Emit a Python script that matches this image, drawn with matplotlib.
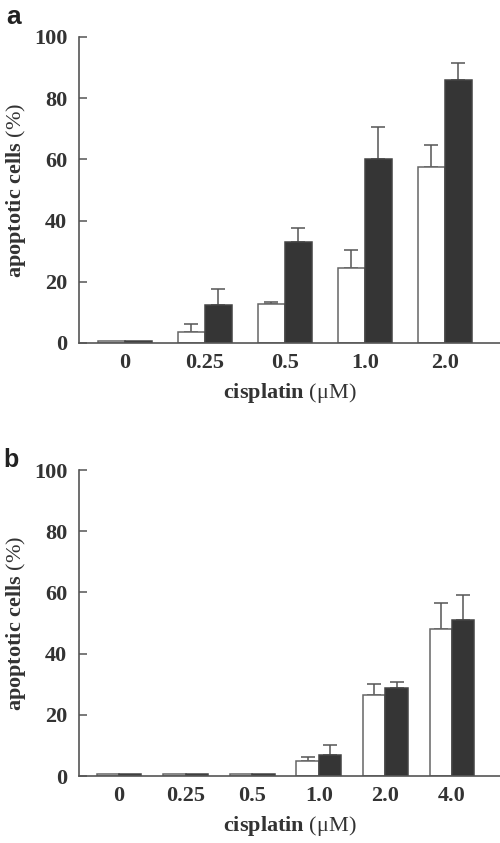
import matplotlib
matplotlib.use("Agg")
import matplotlib.pyplot as plt
import numpy as np

plt.rcParams['font.family'] = ['Liberation Serif', 'DejaVu Serif']
plt.rcParams['mathtext.fontset'] = 'custom'
plt.rcParams['mathtext.rm'] = 'Liberation Serif'
plt.rcParams['mathtext.it'] = 'Liberation Serif:italic'
plt.rcParams['mathtext.bf'] = 'Liberation Serif:bold'

# Panel a data
cats_a = ["0", "0.25", "0.5", "1.0", "2.0"]
white_a = [0.5, 3.6, 12.9, 24.5, 57.5]
white_a_err = [0.0, 2.5, 0.5, 5.9, 7.2]
black_a = [0.5, 12.5, 33.0, 60.1, 86.1]
black_a_err = [0.0, 5.0, 4.6, 10.5, 5.5]

# Panel b data
cats_b = ["0", "0.25", "0.5", "1.0", "2.0", "4.0"]
white_b = [0.5, 0.5, 0.8, 4.8, 26.6, 48.2]
white_b_err = [0.0, 0.0, 0.0, 1.4, 3.5, 8.2]
black_b = [0.5, 0.5, 0.8, 6.7, 28.6, 50.9]
black_b_err = [0.0, 0.0, 0.0, 3.4, 2.2, 8.4]

yticks = [0, 20, 40, 60, 80, 100]

W, H = 500, 843
fig = plt.figure(figsize=(W / 100, H / 100), dpi=100)

txt = '#333333'
spine_c = '#555555'
dark = '#353535'
FS = 16


def panel(rect, cats, wv, we, bv, be, xlim, width):
    ax = fig.add_axes(rect)
    x = np.arange(len(cats))
    ax.bar(x - width / 2, wv, width, color='white', edgecolor='#666666', linewidth=1.1, zorder=2)
    ax.bar(x + width / 2, bv, width, color=dark, edgecolor='#444444', linewidth=1.1, zorder=2)
    for xi, v, e in zip(x - width / 2, wv, we):
        if e > 0:
            ax.errorbar(xi, v, yerr=[[0], [e]], fmt='none', ecolor='#555555', elinewidth=1.1,
                        capsize=5, capthick=1.1, zorder=1)
    for xi, v, e in zip(x + width / 2, bv, be):
        if e > 0:
            ax.errorbar(xi, v, yerr=[[0], [e]], fmt='none', ecolor='#555555', elinewidth=1.1,
                        capsize=5, capthick=1.1, zorder=1)
    ax.set_xlim(*xlim)
    ax.set_ylim(0, 100)
    ax.set_yticks(yticks)
    ax.set_yticklabels([str(t) for t in yticks], fontsize=FS, fontweight='bold', color=txt)
    ax.set_xticks(x)
    ax.set_xticklabels(cats, fontsize=FS, fontweight='bold', color=txt)
    ax.tick_params(axis='y', direction='in', length=6, width=1.1, color=spine_c, pad=8.5)
    ax.tick_params(axis='x', length=0, pad=7)
    for s in ['top', 'right']:
        ax.spines[s].set_visible(False)
    for s in ['left', 'bottom']:
        ax.spines[s].set_color(spine_c)
        ax.spines[s].set_linewidth(1.2)
    ax.set_ylabel(r'apoptotic cells $\mathrm{(\%)}$', fontsize=FS, fontweight='bold', color=txt, labelpad=4)
    ax.set_xlabel(r'cisplatin $\mathrm{(\mu M)}$', fontsize=FS, fontweight='bold', color=txt, labelpad=6)
    return ax


ax_a = panel([79 / W, 1 - 343 / H, 421 / W, 306 / H], cats_a, white_a, white_a_err, black_a, black_a_err,
             (-0.575, 4.69), 0.3375)
ax_b = panel([79 / W, 1 - 776 / H, 421 / W, 306 / H], cats_b, white_b, white_b_err, black_b, black_b_err,
             (-0.6, 5.72), 0.335)

fig.text(14 / W, 1 - 17.5 / H, 'a', fontsize=19, fontweight='bold', family='Liberation Sans',
         color='#222222', ha='center', va='center')
fig.text(10.5 / W, 1 - 467 / H, 'b', fontsize=18, fontweight='bold', family='Liberation Sans',
         color='#222222', ha='center', va='baseline')

fig.savefig('out.png', dpi=100)
